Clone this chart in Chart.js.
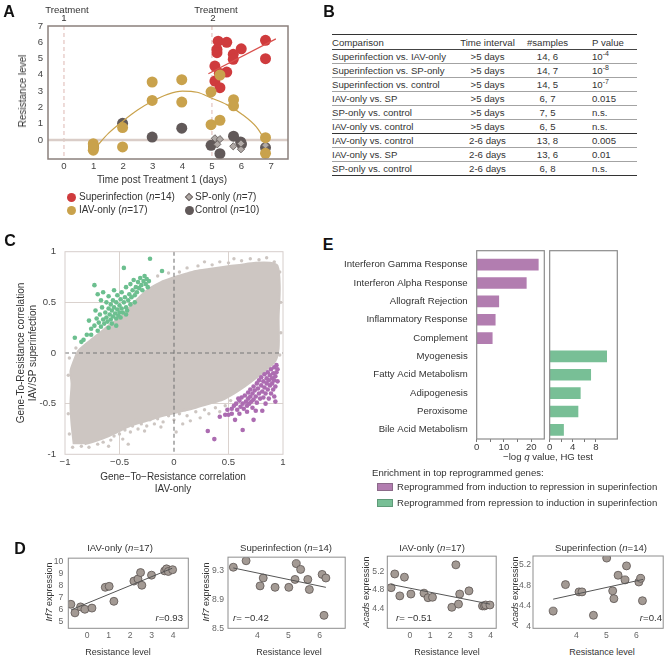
<!DOCTYPE html>
<html>
<head>
<meta charset="utf-8">
<title>Superinfection resistance figure</title>
<script src="https://cdn.jsdelivr.net/npm/chart.js@4.4.1/dist/chart.umd.min.js"></script>
<style>
  html, body { margin: 0; padding: 0; background: #fff; }
  #fig { position: relative; width: 668px; height: 656px; overflow: hidden;
         font-family: 'Liberation Sans', Arial, Helvetica, sans-serif; color: #333; }
  #fig canvas { position: absolute; }
  .tx { position: absolute; white-space: nowrap; line-height: 1; font-size: 9.6px; }
  .panel { font-weight: bold; font-size: 16px; color: #111; }
  .mk { position: absolute; box-sizing: border-box; }
  #tblB { position: absolute; left: 332px; top: 34px; width: 305px; border-collapse: collapse;
          font-size: 9.6px; color: #333; table-layout: fixed; }
  #tblB td { padding: 0; height: 13px; line-height: 13px; border-bottom: 1px solid #a3a3a3; white-space: nowrap; }
  #tblB tr.head td { border-top: 1.5px solid #333; border-bottom: 1.2px solid #444; height: 14px; }
  #tblB tr.cut td, #tblB tr:last-child td { border-bottom: 1.5px solid #333; }
  #tblB td.c { text-align: center; }
  #tblB td.p { padding-left: 17px; }
  #tblB sup { font-size: 7px; line-height: 0; vertical-align: 4px; }
</style>
</head>
<body>
<div id="fig"></div>
<script>
// ============================================================
// Figure: resistance time course (A), stats table (B),
// gene correlation scatter (C), example genes (D), enrichment (E)
// ============================================================

// ── A. Resistance level vs time ─────────────────────────────
const days            = [0, 1, 2, 3, 4, 5, 6, 7];
const resistanceTicks = [0, 1, 2, 3, 4, 5, 6, 7];
const treatmentDays   = [0, 5];

const superX = [5.21, 5.5, 5.17, 5.17, 5.99, 5.72, 5.72, 6.81, 6.81, 5.1, 5.5, 5.1, 5.27, 5.25];
const superY = [6.07, 6.0, 5.56, 5.36, 5.6, 5.26, 4.95, 6.12, 4.99, 4.54, 4.17, 3.62, 3.21, 4.1];
const iavX   = [0.99, 0.99, 1.0, 1.98, 1.98, 2.98, 2.98, 3.98, 3.98, 4.97, 4.97, 5.27, 5.27, 5.73, 5.73, 6.81, 6.81];
const iavY   = [-0.23, -0.63, -0.45, 0.76, -0.43, 3.56, 2.43, 3.7, 2.33, 2.96, 0.94, 3.99, 1.21, 2.47, 2.1, 0.14, -0.82];
const spX    = [5.1, 5.27, 5.18, 5.72, 5.98, 5.98, 6.81];
const spY    = [0.1, 0.05, -0.27, -0.39, -0.57, -0.22, -0.33];
const ctrlX  = [1.0, 1.98, 2.98, 3.98, 4.97, 5.27, 5.73, 5.97, 6.0, 6.81];
const ctrlY  = [-0.43, 1.02, 0.18, 0.72, -0.33, -0.84, 0.23, -0.12, -0.25, -0.47];

const superFitX = [4.88, 7.16];
const superFitY = [4.07, 6.21];
const iavCurveX = [1.07, 1.5, 2, 2.5, 3, 3.5, 4, 4.5, 5, 5.5, 6, 6.5, 6.75];
const iavCurveY = [-0.47, 0.4, 1.17, 1.85, 2.39, 2.8, 3.0, 2.93, 2.56, 2.17, 1.6, 0.8, 0.12];

// ── B. Pairwise comparisons ─────────────────────────────────
const comparisons = ['Superinfection vs. IAV-only', 'Superinfection vs. SP-only', 'Superinfection vs. control',
                     'IAV-only vs. SP', 'SP-only vs. control', 'IAV-only vs. control',
                     'IAV-only vs. control', 'IAV-only vs. SP', 'SP-only vs. control'];
const intervals   = ['>5 days', '>5 days', '>5 days', '>5 days', '>5 days', '>5 days', '2-6 days', '2-6 days', '2-6 days'];
const sampleSizes = ['14, 6', '14, 7', '14, 5', '6, 7', '7, 5', '6, 5', '13, 8', '13, 6', '6, 8'];
const pValues     = ['10<sup>-4</sup>', '10<sup>-8</sup>', '10<sup>-7</sup>', '0.015', 'n.s.', 'n.s.', '0.005', '0.01', 'n.s.'];

// ── C. Gene-to-resistance correlations ──────────────────────
const corrTicks = [-1, -0.5, 0, 0.5, 1];
// outline of the dense grey cloud (clockwise from bottom-left)
const cloudOutline = [
  [-0.92, -0.9], [-0.94, -0.7], [-0.95, -0.5], [-0.94, -0.3], [-0.95, -0.18], [-0.92, -0.08], [-0.88, 0.02],
  [-0.82, 0.08], [-0.75, 0.14], [-0.68, 0.2], [-0.6, 0.27], [-0.52, 0.33], [-0.45, 0.4], [-0.38, 0.48],
  [-0.3, 0.57], [-0.22, 0.64], [-0.12, 0.7], [-0.02, 0.74], [0.1, 0.78], [0.2, 0.81], [0.32, 0.83],
  [0.45, 0.85], [0.6, 0.87], [0.75, 0.89], [0.88, 0.89], [0.95, 0.86], [0.97, 0.65], [0.96, 0.35],
  [0.96, 0.05], [0.93, -0.08], [0.85, -0.16], [0.75, -0.25], [0.65, -0.33], [0.55, -0.4], [0.45, -0.46],
  [0.33, -0.5], [0.2, -0.54], [0.05, -0.58], [-0.1, -0.62], [-0.25, -0.67], [-0.4, -0.72], [-0.52, -0.78],
  [-0.62, -0.83], [-0.72, -0.87], [-0.82, -0.9]
];
// sparse grey genes around the cloud edge
const cloudSpeckles = [
  [-0.85, -0.92], [-0.78, -0.93], [-0.7, -0.9], [-0.65, -0.88], [-0.58, -0.86], [-0.55, -0.82], [-0.5, -0.8],
  [-0.47, -0.85], [-0.45, -0.76], [-0.4, -0.78], [-0.38, -0.72], [-0.33, -0.75], [-0.3, -0.7], [-0.25, -0.72],
  [-0.22, -0.66], [-0.18, -0.7], [-0.15, -0.65], [-0.1, -0.68], [-0.05, -0.62], [0, -0.66], [0.02, -0.78],
  [0.05, -0.6], [0.08, -0.7], [0.12, -0.62], [0.15, -0.67], [0.2, -0.58], [0.24, -0.64], [0.28, -0.56],
  [0.32, -0.6], [0.38, -0.54], [0.42, -0.58], [0.47, -0.52], [0.52, -0.47], [-0.35, -0.66], [-0.27, -0.77],
  [-0.12, -0.73], [0.1, -0.56], [-0.6, -0.92], [-0.42, -0.9],
  [-0.15, 0.76], [-0.05, 0.79], [0.05, 0.8], [0.12, 0.84], [0.22, 0.86], [0.28, 0.9], [0.35, 0.87],
  [0.42, 0.9], [0.5, 0.89], [0.55, 0.93], [0.62, 0.91], [0.7, 0.93], [0.78, 0.92], [0.85, 0.94],
  [0.92, 0.9], [0.97, 0.8], [0.98, 0.5], [0.98, 0.2], [0.97, -0.02], [-0.25, 0.68], [-0.35, 0.6],
  [-0.97, -0.22], [-0.96, -0.05], [-0.9, 0.05], [-0.97, -0.6], [-0.96, -0.8], [-0.93, -0.93]
];
// reprogrammed from repression to induction (green)
const greenGenes = [
  [-0.91, 0.15], [-0.85, 0.11], [-0.83, 0.13], [-0.8, 0.18], [-0.78, 0.32], [-0.76, 0.24], [-0.76, 0.18],
  [-0.73, 0.27], [-0.72, 0.42], [-0.73, 0.67], [-0.71, 0.34], [-0.7, 0.22], [-0.69, 0.3], [-0.68, 0.38],
  [-0.67, 0.26], [-0.66, 0.45], [-0.65, 0.33], [-0.65, 0.6], [-0.64, 0.29], [-0.63, 0.4], [-0.62, 0.5],
  [-0.62, 0.35], [-0.61, 0.31], [-0.6, 0.44], [-0.6, 0.56], [-0.59, 0.38], [-0.58, 0.33], [-0.58, 0.48],
  [-0.57, 0.42], [-0.56, 0.36], [-0.56, 0.52], [-0.55, 0.62], [-0.55, 0.45], [-0.54, 0.39], [-0.53, 0.34],
  [-0.53, 0.5], [-0.52, 0.43], [-0.52, 0.57], [-0.51, 0.37], [-0.5, 0.47], [-0.5, 0.4], [-0.49, 0.53],
  [-0.49, 0.35], [-0.48, 0.44], [-0.48, 0.6], [-0.47, 0.4], [-0.46, 0.5], [-0.46, 0.84], [-0.45, 0.55],
  [-0.44, 0.45], [-0.44, 0.65], [-0.43, 0.42], [-0.42, 0.52], [-0.41, 0.58], [-0.4, 0.48], [-0.4, 0.68],
  [-0.39, 0.55], [-0.38, 0.62], [-0.37, 0.72], [-0.36, 0.57], [-0.35, 0.65], [-0.34, 0.6], [-0.33, 0.7],
  [-0.32, 0.64], [-0.31, 0.74], [-0.3, 0.67], [-0.29, 0.62], [-0.28, 0.71], [-0.27, 0.76], [-0.26, 0.68],
  [-0.25, 0.73], [-0.24, 0.65], [-0.23, 0.71], [-0.22, 0.93], [-0.11, 0.81], [-0.53, 0.27], [-0.57, 0.29],
  [-0.67, 0.52], [-0.7, 0.58], [-0.44, 0.38], [-0.36, 0.5], [-0.6, 0.25]
];
// reprogrammed from induction to repression (purple)
const purpleGenes = [
  [0.37, -0.85], [0.31, -0.77], [0.63, -0.76], [0.73, -0.66], [0.56, -0.66], [0.42, -0.63], [0.47, -0.61],
  [0.5, -0.61], [0.6, -0.6], [0.75, -0.57], [0.81, -0.57], [0.93, -0.48], [0.49, -0.56], [0.53, -0.55],
  [0.55, -0.52], [0.57, -0.5], [0.58, -0.56], [0.6, -0.47], [0.61, -0.53], [0.62, -0.44], [0.63, -0.5],
  [0.64, -0.55], [0.65, -0.42], [0.66, -0.48], [0.67, -0.52], [0.68, -0.39], [0.68, -0.45], [0.69, -0.5],
  [0.7, -0.36], [0.7, -0.43], [0.71, -0.48], [0.72, -0.4], [0.73, -0.33], [0.73, -0.46], [0.74, -0.37],
  [0.75, -0.43], [0.76, -0.3], [0.76, -0.49], [0.77, -0.35], [0.78, -0.4], [0.78, -0.27], [0.79, -0.45],
  [0.8, -0.32], [0.8, -0.24], [0.81, -0.38], [0.82, -0.28], [0.82, -0.44], [0.83, -0.21], [0.83, -0.34],
  [0.84, -0.4], [0.85, -0.25], [0.85, -0.3], [0.86, -0.19], [0.86, -0.36], [0.87, -0.45], [0.87, -0.27],
  [0.88, -0.22], [0.88, -0.32], [0.89, -0.16], [0.89, -0.4], [0.9, -0.25], [0.9, -0.3], [0.91, -0.2],
  [0.91, -0.36], [0.92, -0.14], [0.92, -0.27], [0.93, -0.23], [0.93, -0.33], [0.94, -0.12], [0.94, -0.19],
  [0.95, -0.28], [0.95, -0.16], [0.92, -0.43], [0.67, -0.58], [0.53, -0.6], [0.72, -0.54], [0.84, -0.5],
  [0.59, -0.45]
];

// ── D. Example genes ────────────────────────────────────────
const irf7IavRes   = [-0.76, -0.57, -0.31, -0.11, 0.22, 0.84, 1.02, 1.24, 2.17, 2.36, 2.48, 2.54, 2.99, 3.6, 3.69, 3.77, 3.97];
const irf7IavExpr  = [6.42, 5.7, 6.2, 6.0, 6.1, 7.85, 7.93, 6.67, 8.37, 8.55, 9.09, 8.02, 8.87, 9.23, 9.4, 9.18, 9.33];
const irf7SupRes   = [3.23, 3.64, 4.19, 4.09, 4.57, 5.01, 5.21, 5.25, 5.39, 5.62, 5.67, 6.08, 6.2, 6.14];
const irf7SupExpr  = [9.35, 9.44, 9.2, 9.09, 9.07, 9.07, 9.18, 9.4, 9.32, 9.18, 9.04, 9.25, 9.2, 8.68];
const acadsIavRes  = [-0.93, -0.75, -0.5, -0.27, 0.05, 0.7, 0.9, 1.12, 2.08, 2.28, 2.41, 2.47, 2.93, 3.6, 3.7, 3.76, 3.97];
const acadsIavExpr = [4.85, 5.15, 4.67, 5.08, 4.71, 4.73, 4.63, 4.64, 4.42, 5.35, 4.49, 4.71, 4.78, 4.45, 4.45, 4.47, 4.47];
const acadsSupRes  = [3.23, 3.64, 4.09, 4.19, 4.57, 5.01, 5.21, 5.25, 5.39, 5.62, 5.67, 6.08, 6.14, 6.2];
const acadsSupExpr = [4.3, 4.81, 4.67, 4.67, 4.22, 5.32, 4.69, 4.54, 4.99, 4.9, 5.17, 4.86, 4.93, 4.5];

const irf7IavFit  = { x: [-0.75, 3.95], y: [5.95, 9.45] };
const irf7SupFit  = { x: [3.23, 6.2],   y: [9.34, 9.07] };
const acadsIavFit = { x: [-0.93, 3.97], y: [4.92, 4.49] };
const acadsSupFit = { x: [3.23, 6.22],  y: [4.53, 4.91] };

// ── E. Hallmark enrichment ──────────────────────────────────
const inducedToRepressed = ['Interferon Gamma Response', 'Interferon Alpha Response', 'Allograft Rejection',
                            'Inflammatory Response', 'Complement'];
const inducedScores      = [22.6, 18.2, 8.1, 6.8, 5.7];
const repressedToInduced = ['Myogenesis', 'Fatty Acid Metabolism', 'Adipogenesis', 'Peroxisome', 'Bile Acid Metabolism'];
const repressedScores    = [9.86, 7.1, 5.3, 4.9, 2.4];

// ── Colours ─────────────────────────────────────────────────
const RED = '#cf3b3d', GOLD = '#c9a24c', DARK = '#615959', SPGREY = '#b0a9a6';
const CLOUD = '#cdc6c2', GREEN = '#6cbf8f', PURPLE = '#ac6cb1';
const BAR_PURPLE = '#b27db0', BAR_GREEN = '#78bf96';
const DOT = '#a39a94', DOT_EDGE = '#5c5452';

// ============================================================
// helpers
// ============================================================
Chart.defaults.font.family = "'Liberation Sans', Arial, Helvetica, sans-serif";
Chart.defaults.font.size = 9.6;
Chart.defaults.color = '#3a3a3a';
Chart.defaults.animation = false;

const fig = document.getElementById('fig');
const pts = (xs, ys) => xs.map((x, i) => ({ x, y: ys[i] }));
const xy  = arr => arr.map(([x, y]) => ({ x, y }));

// box around the plot area
const framePlugin = {
  id: 'frame',
  afterDraw(chart, args, o) {
    if (!o || !o.color) return;
    const a = chart.chartArea, ctx = chart.ctx;
    const pt = o.padTop || 0;
    ctx.save();
    ctx.strokeStyle = o.color;
    ctx.lineWidth = o.width || 1;
    ctx.strokeRect(a.left, a.top - pt, a.right - a.left, a.bottom - a.top + pt);
    ctx.restore();
  }
};

// reference lines at data values (under or over the points)
function drawRefLines(chart, lines) {
  const { ctx, chartArea: a, scales } = chart;
  lines.forEach(l => {
    ctx.save();
    ctx.strokeStyle = l.color;
    ctx.lineWidth = l.width || 1;
    ctx.setLineDash(l.dash || []);
    ctx.beginPath();
    if (l.axis === 'x') {
      const p = scales.x.getPixelForValue(l.value);
      ctx.moveTo(p, a.top); ctx.lineTo(p, a.bottom);
    } else {
      const p = scales.y.getPixelForValue(l.value);
      ctx.moveTo(a.left, p); ctx.lineTo(a.right, p);
    }
    ctx.stroke();
    ctx.restore();
  });
}
const refLinePlugin = {
  id: 'refLines',
  beforeDatasetsDraw(chart, args, o) { if (o && o.lines) drawRefLines(chart, o.lines.filter(l => !l.top)); },
  afterDatasetsDraw(chart, args, o)  { if (o && o.lines) drawRefLines(chart, o.lines.filter(l => l.top)); }
};
Chart.register(framePlugin, refLinePlugin);

function makeCanvas(left, top, w, h) {
  const c = document.createElement('canvas');
  c.width = w; c.height = h;
  c.style.left = left + 'px'; c.style.top = top + 'px';
  c.style.width = w + 'px'; c.style.height = h + 'px';
  fig.appendChild(c);
  return c.getContext('2d');
}

// pin the plot area to a = {l, t, r, b} inside a W x H canvas
function pinArea(cfg, W, H, a) {
  const opts = cfg.options;
  const yShown = opts.scales.y.display !== false;
  opts.layout = { padding: { top: a.t, right: W - a.r, bottom: 0, left: yShown ? 0 : a.l } };
  if (yShown) opts.scales.y.afterFit = s => { s.width = a.l; };
  opts.scales.x.afterFit = s => { s.height = H - a.b; };
  opts.responsive = false;
  opts.events = [];
  opts.plugins = Object.assign({ legend: { display: false }, tooltip: { enabled: false } }, opts.plugins);
  return cfg;
}

function axis(min, max, tickValues, o = {}) {
  return {
    type: 'linear', min, max,
    afterBuildTicks: s => { s.ticks = tickValues.map(v => ({ value: v })); },
    ticks: { padding: o.pad ?? 4, font: { size: o.size || 9.6 }, color: o.color || '#3a3a3a',
             callback: o.fmt || (v => String(v)) },
    grid: o.grid || { display: false, drawTicks: false },
    border: { display: false },
  };
}

function text(html, x, y, o = {}) {
  const d = document.createElement('div');
  d.className = 'tx' + (o.cls ? ' ' + o.cls : '');
  d.innerHTML = html;
  d.style.left = x + 'px';
  d.style.top = y + 'px';
  if (o.size) d.style.fontSize = o.size + 'px';
  if (o.color) d.style.color = o.color;
  const ax = { l: '0', c: '-50%', r: '-100%' }[o.align || 'c'];
  d.style.transform = `translate(${ax}, -50%)` + (o.rot ? ' rotate(-90deg)' : '');
  fig.appendChild(d);
}

function marker(cx, cy, w, h, fill, edge, shape) {
  const d = document.createElement('div');
  d.className = 'mk';
  d.style.cssText += `left:${cx - w / 2}px;top:${cy - h / 2}px;width:${w}px;height:${h}px;` +
    `background:${fill};` + (edge ? `border:1px solid ${edge};` : '') +
    (shape === 'circle' ? 'border-radius:50%;' : '') +
    (shape === 'diamond' ? 'transform:rotate(45deg);' : '');
  fig.appendChild(d);
}

// ============================================================
// A. resistance time course
// ============================================================
new Chart(makeCanvas(0, 0, 330, 180), pinArea({
  type: 'scatter',
  data: {
    datasets: [
      { type: 'line', data: pts(superFitX, superFitY), borderColor: '#d9504d', borderWidth: 1.2,
        pointRadius: 0, fill: false, order: 0 },
      { type: 'line', data: pts(iavCurveX, iavCurveY), borderColor: GOLD, borderWidth: 1.2,
        pointRadius: 0, fill: false, cubicInterpolationMode: 'monotone', order: 1 },
      { data: pts(iavX, iavY), backgroundColor: GOLD, borderWidth: 0, pointRadius: 5.5, order: 2 },
      { data: pts(superX, superY), backgroundColor: RED, borderWidth: 0, pointRadius: 5.5, order: 3 },
      { data: pts(spX, spY), pointStyle: 'rectRot', backgroundColor: SPGREY, borderColor: '#6f6866',
        borderWidth: 1, pointRadius: 3.6, order: 4 },
      { data: pts(ctrlX, ctrlY), backgroundColor: DARK, borderWidth: 0, pointRadius: 5.5, order: 5 },
    ]
  },
  options: {
    scales: {
      x: axis(-0.54, 7.57, days, { pad: 2, color: '#444' }),
      y: axis(-1.17, 7.0, resistanceTicks, { pad: 5, color: '#444' }),
    },
    plugins: {
      frame: { color: '#8b807c', width: 1.5 },
      refLines: { lines: [
        ...treatmentDays.map(v => ({ axis: 'x', value: v, color: '#ddb7b2', width: 1, dash: [4, 3] })),
        { axis: 'y', value: 0, color: '#dacdc8', width: 2.6 },
      ] },
    }
  }
}, 330, 180, { l: 48, t: 26, r: 288, b: 159 }));

text('A', 9, 12, { cls: 'panel' });
text('Treatment', 67, 9.5);
text('1', 64, 18);
text('Treatment', 216, 9.5);
text('2', 213, 18);
text('Resistance level', 23, 91, { rot: true, size: 10 });
text('Time post Treatment 1 (days)', 162, 180, { size: 10 });

marker(71, 197, 9, 9, RED, null, 'circle');
text('Superinfection (<i>n</i>=14)', 79, 197, { align: 'l', size: 10 });
marker(189, 197, 6, 6, SPGREY, '#6f6866', 'diamond');
text('SP-only (<i>n</i>=7)', 195, 197, { align: 'l', size: 10 });
marker(71, 210, 9, 9, GOLD, null, 'circle');
text('IAV-only (<i>n</i>=17)', 79, 210, { align: 'l', size: 10 });
marker(189, 210, 9, 9, DARK, null, 'circle');
text('Control (<i>n</i>=10)', 195, 210, { align: 'l', size: 10 });

// ============================================================
// B. comparison table
// ============================================================
text('B', 329, 12, { cls: 'panel' });
const tbl = document.createElement('table');
tbl.id = 'tblB';
let rows = '<colgroup><col style="width:123px"><col style="width:65px"><col style="width:55px"><col style="width:62px"></colgroup>';
rows += '<tr class="head"><td>Comparison</td><td class="c">Time interval</td><td class="c">#samples</td><td class="p">P value</td></tr>';
comparisons.forEach((c, i) => {
  rows += `<tr${i === 5 ? ' class="cut"' : ''}><td>${c}</td><td class="c">${intervals[i].replace('>', '&gt;')}</td>` +
          `<td class="c">${sampleSizes[i]}</td><td class="p">${pValues[i]}</td></tr>`;
});
tbl.innerHTML = rows;
fig.appendChild(tbl);

// ============================================================
// C. gene-to-resistance correlation scatter
// ============================================================
const halfGrid = c => (c.tick && Math.abs(c.tick.value) === 0.5) ? '#dad2ce' : 'rgba(0,0,0,0)';
new Chart(makeCanvas(0, 235, 300, 240), pinArea({
  type: 'scatter',
  data: {
    datasets: [
      { data: xy(purpleGenes), backgroundColor: PURPLE, borderWidth: 0, pointRadius: 2.3, order: 0 },
      { data: xy(greenGenes), backgroundColor: GREEN, borderWidth: 0, pointRadius: 2.3, order: 1 },
      { data: xy(cloudSpeckles), backgroundColor: CLOUD, borderWidth: 0, pointRadius: 1.7, order: 2 },
      { type: 'line', data: xy(cloudOutline), backgroundColor: CLOUD, borderColor: CLOUD, borderWidth: 2,
        pointRadius: 0, fill: 'shape', tension: 0.3, order: 3 },
    ]
  },
  options: {
    scales: {
      x: axis(-1, 1, corrTicks, { pad: 2, color: '#444', fmt: v => String(v).replace('-', '\u2212'),
                                  grid: { color: halfGrid, drawTicks: false, lineWidth: 1 } }),
      y: axis(-1, 1, corrTicks, { pad: 9, color: '#444', grid: { color: halfGrid, drawTicks: false, lineWidth: 1 } }),
    },
    plugins: {
      frame: { color: '#d6cecb', width: 1 },
      refLines: { lines: [
        { axis: 'x', value: 0, color: '#777', width: 1.1, dash: [4, 3], top: true },
        { axis: 'y', value: 0, color: '#777', width: 1.1, dash: [4, 3], top: true },
      ] },
    }
  }
}, 300, 240, { l: 65, t: 16.7, r: 283, b: 219.3 }));

text('C', 10, 241, { cls: 'panel' });
text('Gene-To-Resistance correlation', 21, 353, { rot: true, size: 10 });
text('IAV/SP superinfection', 33, 353, { rot: true, size: 10 });
text('Gene\u2212To\u2212Resistance correlation', 173, 477, { size: 10 });
text('IAV-only', 173, 489, { size: 10 });

// ============================================================
// E. enrichment bars
// ============================================================
const pathways   = inducedToRepressed.concat(repressedToInduced);
const blank      = inducedToRepressed.map(() => null);
const leftTicks  = [0, 5, 10, 15, 20];
const rightTicks = [0, 2, 4, 6, 8];
const majorOnly  = step => v => (v % step === 0 ? String(v) : '');
const tickGrid   = { drawOnChartArea: false, drawTicks: true, tickLength: 3, color: '#777' };

new Chart(makeCanvas(335, 235, 211, 225), pinArea({
  type: 'bar',
  data: { labels: pathways,
          datasets: [{ data: inducedScores.concat(blank), backgroundColor: BAR_PURPLE, barThickness: 11 }] },
  options: {
    indexAxis: 'y',
    scales: {
      x: axis(0, 24.8, leftTicks, { pad: 0, fmt: majorOnly(10), grid: tickGrid }),
      y: { type: 'category', ticks: { padding: 9, font: { size: 9.6 }, color: '#333' },
           grid: { display: false, drawTicks: false }, border: { display: false } },
    },
    plugins: { frame: { color: '#8c8c8c', width: 1.2, padTop: 4.8 } }
  }
}, 211, 225, { l: 141.7, t: 20.5, r: 209.3, b: 204 }));

new Chart(makeCanvas(547, 235, 75, 225), pinArea({
  type: 'bar',
  data: { labels: pathways,
          datasets: [{ data: blank.concat(repressedScores), backgroundColor: BAR_GREEN, barThickness: 11 }] },
  options: {
    indexAxis: 'y',
    scales: {
      x: axis(0, 11.7, rightTicks, { pad: 0, fmt: majorOnly(4), grid: tickGrid }),
      y: { type: 'category', display: false },
    },
    plugins: { frame: { color: '#8c8c8c', width: 1.2, padTop: 4.8 } }
  }
}, 75, 225, { l: 2, t: 20.5, r: 70.3, b: 204 }));

text('E', 328, 245, { cls: 'panel' });
text('\u2212log <i>q</i> value, HG test', 548, 457, { size: 9.6 });
text('Enrichment in top reprogrammed genes:', 372, 473, { align: 'l', size: 9.6 });
marker(385, 487, 16, 8, BAR_PURPLE, '#8c6a8a');
text('Reprogrammed from induction to repression in superinfection', 397, 487, { align: 'l', size: 9.6 });
marker(385, 503, 16, 8, BAR_GREEN, '#5f9a78');
text('Reprogrammed from repression to induction in superinfection', 397, 503, { align: 'l', size: 9.6 });

// ============================================================
// D. example genes vs resistance
// ============================================================
function genePanel(left, W, area, res, expr, fit, xr, yr, xTicks, yTicks, yPad) {
  new Chart(makeCanvas(left, 548, W, 97), pinArea({
    type: 'scatter',
    data: {
      datasets: [
        { type: 'line', data: pts(fit.x, fit.y), borderColor: '#555', borderWidth: 1, pointRadius: 0, fill: false, order: 0 },
        { data: pts(res, expr), backgroundColor: DOT, borderColor: DOT_EDGE, borderWidth: 0.8, pointRadius: 4, order: 1 },
      ]
    },
    options: {
      scales: {
        x: axis(xr[0], xr[1], xTicks, { pad: 2.5, size: 8.6, color: '#666' }),
        y: axis(yr[0], yr[1], yTicks, { pad: yPad, size: 8.6, color: '#666' }),
      },
      plugins: { frame: { color: '#8d8d8d', width: 1 } }
    }
  }, W, 97, area));
}

genePanel(40, 155, { l: 28.3, t: 8, r: 148.3, b: 80.3 }, irf7IavRes, irf7IavExpr, irf7IavFit,
          [-0.88, 4.7], [4.4, 10.3], [0, 1, 2, 3, 4], [5, 6, 7, 8, 9, 10], 5);
genePanel(200, 150, { l: 28, t: 8, r: 145.7, b: 80.3 }, irf7SupRes, irf7SupExpr, irf7SupFit,
          [3.06, 6.82], [8.5, 9.49], [4, 5, 6], [8.5, 8.9, 9.3], 4);
genePanel(355, 146, { l: 32.3, t: 8, r: 143, b: 80.3 }, acadsIavRes, acadsIavExpr, acadsIavFit,
          [-1.12, 4.28], [3.96, 5.54], [0, 1, 2, 3, 4], [4.4, 4.8, 5.2], 3);
genePanel(503, 165, { l: 30, t: 8, r: 163.3, b: 80.3 }, acadsSupRes, acadsSupExpr, acadsSupFit,
          [2.56, 6.89], [3.97, 5.36], [4, 5, 6], [4, 4.4, 4.8, 5.2], 2);

text('D', 20, 549, { cls: 'panel' });
text('IAV-only (<i>n</i>=17)', 120, 548, { size: 9.6 });
text('Superinfection (<i>n</i>=14)', 286, 548, { size: 9.6 });
text('IAV-only (<i>n</i>=17)', 432, 548, { size: 9.6 });
text('Superinfection (<i>n</i>=14)', 601, 548, { size: 9.6 });

text('<i>Irf7</i> expression', 49, 592, { rot: true, size: 9 });
text('<i>Irf7</i> expression', 206, 592, { rot: true, size: 9 });
text('<i>Acads</i> expression', 366, 592, { rot: true, size: 9 });
text('<i>Acads</i> expression', 515, 592, { rot: true, size: 9 });

text('Resistance level', 118, 652, { size: 9 });
text('Resistance level', 289, 652, { size: 9 });
text('Resistance level', 447, 652, { size: 9 });
text('Resistance level', 602, 652, { size: 9 });

text('<i>r</i>=0.93', 183, 618, { align: 'r', size: 9.6 });
text('<i>r</i>= \u22120.42', 233, 618, { align: 'l', size: 9.6 });
text('<i>r</i>= \u22120.51', 396, 618, { align: 'l', size: 9.6 });
text('<i>r</i>=0.4', 662, 618, { align: 'r', size: 9.6 });
</script>
</body>
</html>
